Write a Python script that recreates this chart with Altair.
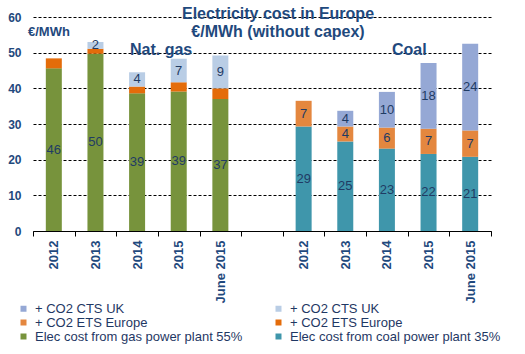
import altair as alt
import pandas as pd

# ---- data ----
years = ["2012", "2013", "2014", "2015", "June 2015"]
gas_elec = [45.6, 49.7, 38.6, 39.1, 37.0]
gas_ets = [2.8, 1.4, 1.9, 2.6, 3.0]
gas_uk = [0.0, 1.9, 4.0, 6.6, 9.2]
coal_elec = [29.3, 25.1, 23.1, 21.6, 20.8]
coal_ets = [7.2, 4.2, 5.9, 7.1, 7.4]
coal_uk = [0.0, 4.4, 10.0, 18.4, 24.3]

title_lines = ["Electricity cost in Europe", "€/MWh (without capex)"]
unit_label = "€/MWh"
group_labels = ["Nat. gas", "Coal"]
y_ticks = [0, 10, 20, 30, 40, 50, 60]

# legend keys (column-major order for a 2-column, 3-row legend), "key|label"
legend_keys = [
    "a| + CO2 CTS UK",
    "c| + CO2 ETS Europe",
    "e|Elec cost from gas power plant 55%",
    "b| + CO2 CTS UK",
    "d| + CO2 ETS Europe",
    "f|Elec cost from coal power plant 35%",
]
legend_colors = ["#95A8D5", "#E4873F", "#77933C", "#B9CDE5", "#E46C0A", "#3F96AB"]

series = {
    "G": [("e|Elec cost from gas power plant 55%", gas_elec, True),
          ("d| + CO2 ETS Europe", gas_ets, False),
          ("b| + CO2 CTS UK", gas_uk, True)],
    "C": [("f|Elec cost from coal power plant 35%", coal_elec, True),
          ("c| + CO2 ETS Europe", coal_ets, True),
          ("a| + CO2 CTS UK", coal_uk, True)],
}

x_domain = [f"G|{y}" for y in years] + ["gap|"] + [f"C|{y}" for y in years]

rows = []
for grp in ["G", "C"]:
    for i, y in enumerate(years):
        base = 0.0
        for order, (key, vals, show) in enumerate(series[grp]):
            v = vals[i]
            rows.append({
                "cat": f"{grp}|{y}", "series": key, "order": order,
                "start": base, "end": base + v, "mid": base + v / 2,
                "lbl": str(int(round(v))), "show": bool(show and v > 0),
            })
            base += v
df = pd.DataFrame(rows)

W, H = 458, 214
navy = "#1F497D"

xscale = alt.Scale(domain=x_domain, paddingInner=0, paddingOuter=0)
yscale = alt.Scale(domain=[0, 60], nice=False)

x_axis = alt.Axis(labelExpr="split(datum.label,'|')[1]", labelAngle=270,
                  tickBand="extent", tickSize=5, tickColor="black",
                  domainColor="black", labelPadding=4,
                  labelFontSize=13, labelFontWeight="bold",
                  labelColor=navy, labelLimit=200, grid=False)
y_axis = alt.Axis(values=y_ticks, tickCount=7, domain=False, ticks=False,
                  gridDash=[3, 2], gridColor="black", gridOpacity=1,
                  labelPadding=12, labelFontSize=12, labelFontWeight="bold",
                  labelColor=navy, labelOverlap=False)

bars = alt.Chart(df).mark_bar(width=16).encode(
    x=alt.X("cat:N", scale=xscale, sort=x_domain, title=None, axis=x_axis),
    y=alt.Y("start:Q", scale=yscale, title=None, axis=y_axis),
    y2="end:Q",
    color=alt.Color("series:N",
                    scale=alt.Scale(domain=legend_keys, range=legend_colors),
                    legend=alt.Legend(title=None, orient="none", legendX=-16, legendY=285,
                                      columns=2, columnPadding=29, rowPadding=0,
                                      symbolType="square", symbolSize=36,
                                      symbolStrokeWidth=0, labelFontSize=13,
                                      labelColor="#1F3864", labelOffset=5,
                                      labelLimit=300,
                                      labelExpr="split(datum.label,'|')[1]")),
)

labels = alt.Chart(df).transform_filter("datum.show").mark_text(
    fontSize=13, color="#1F3B64"
).encode(
    x=alt.X("cat:N", scale=xscale, sort=x_domain, title=None, axis=x_axis),
    y=alt.Y("mid:Q", scale=yscale, title=None, axis=y_axis),
    text="lbl:N",
)

def note(txt, x, y, size, align="center", weight="bold"):
    return alt.Chart(pd.DataFrame({"t": [txt]})).mark_text(
        fontSize=size, fontWeight=weight, color=navy, align=align, baseline="middle"
    ).encode(text="t:N", x=alt.value(x), y=alt.value(y))

annotations = [
    note(title_lines[0], 245, -3.5, 16),
    note(title_lines[1], 245, 15, 16),
    note(unit_label, -5, 15, 13, align="left"),
    note(group_labels[0], 97, 33, 16, align="left"),
    note(group_labels[1], 359, 33, 16, align="left"),
]

chart = alt.layer(bars, labels, *annotations).properties(
    width=W, height=H,
    autosize=alt.AutoSizeParams(type="none"),
    padding={"left": 33, "top": 17, "right": 34, "bottom": 123},
).configure(font="Liberation Sans").configure_view(stroke=None)

chart.save("out.html", embed_options={"renderer": "svg", "actions": False})
